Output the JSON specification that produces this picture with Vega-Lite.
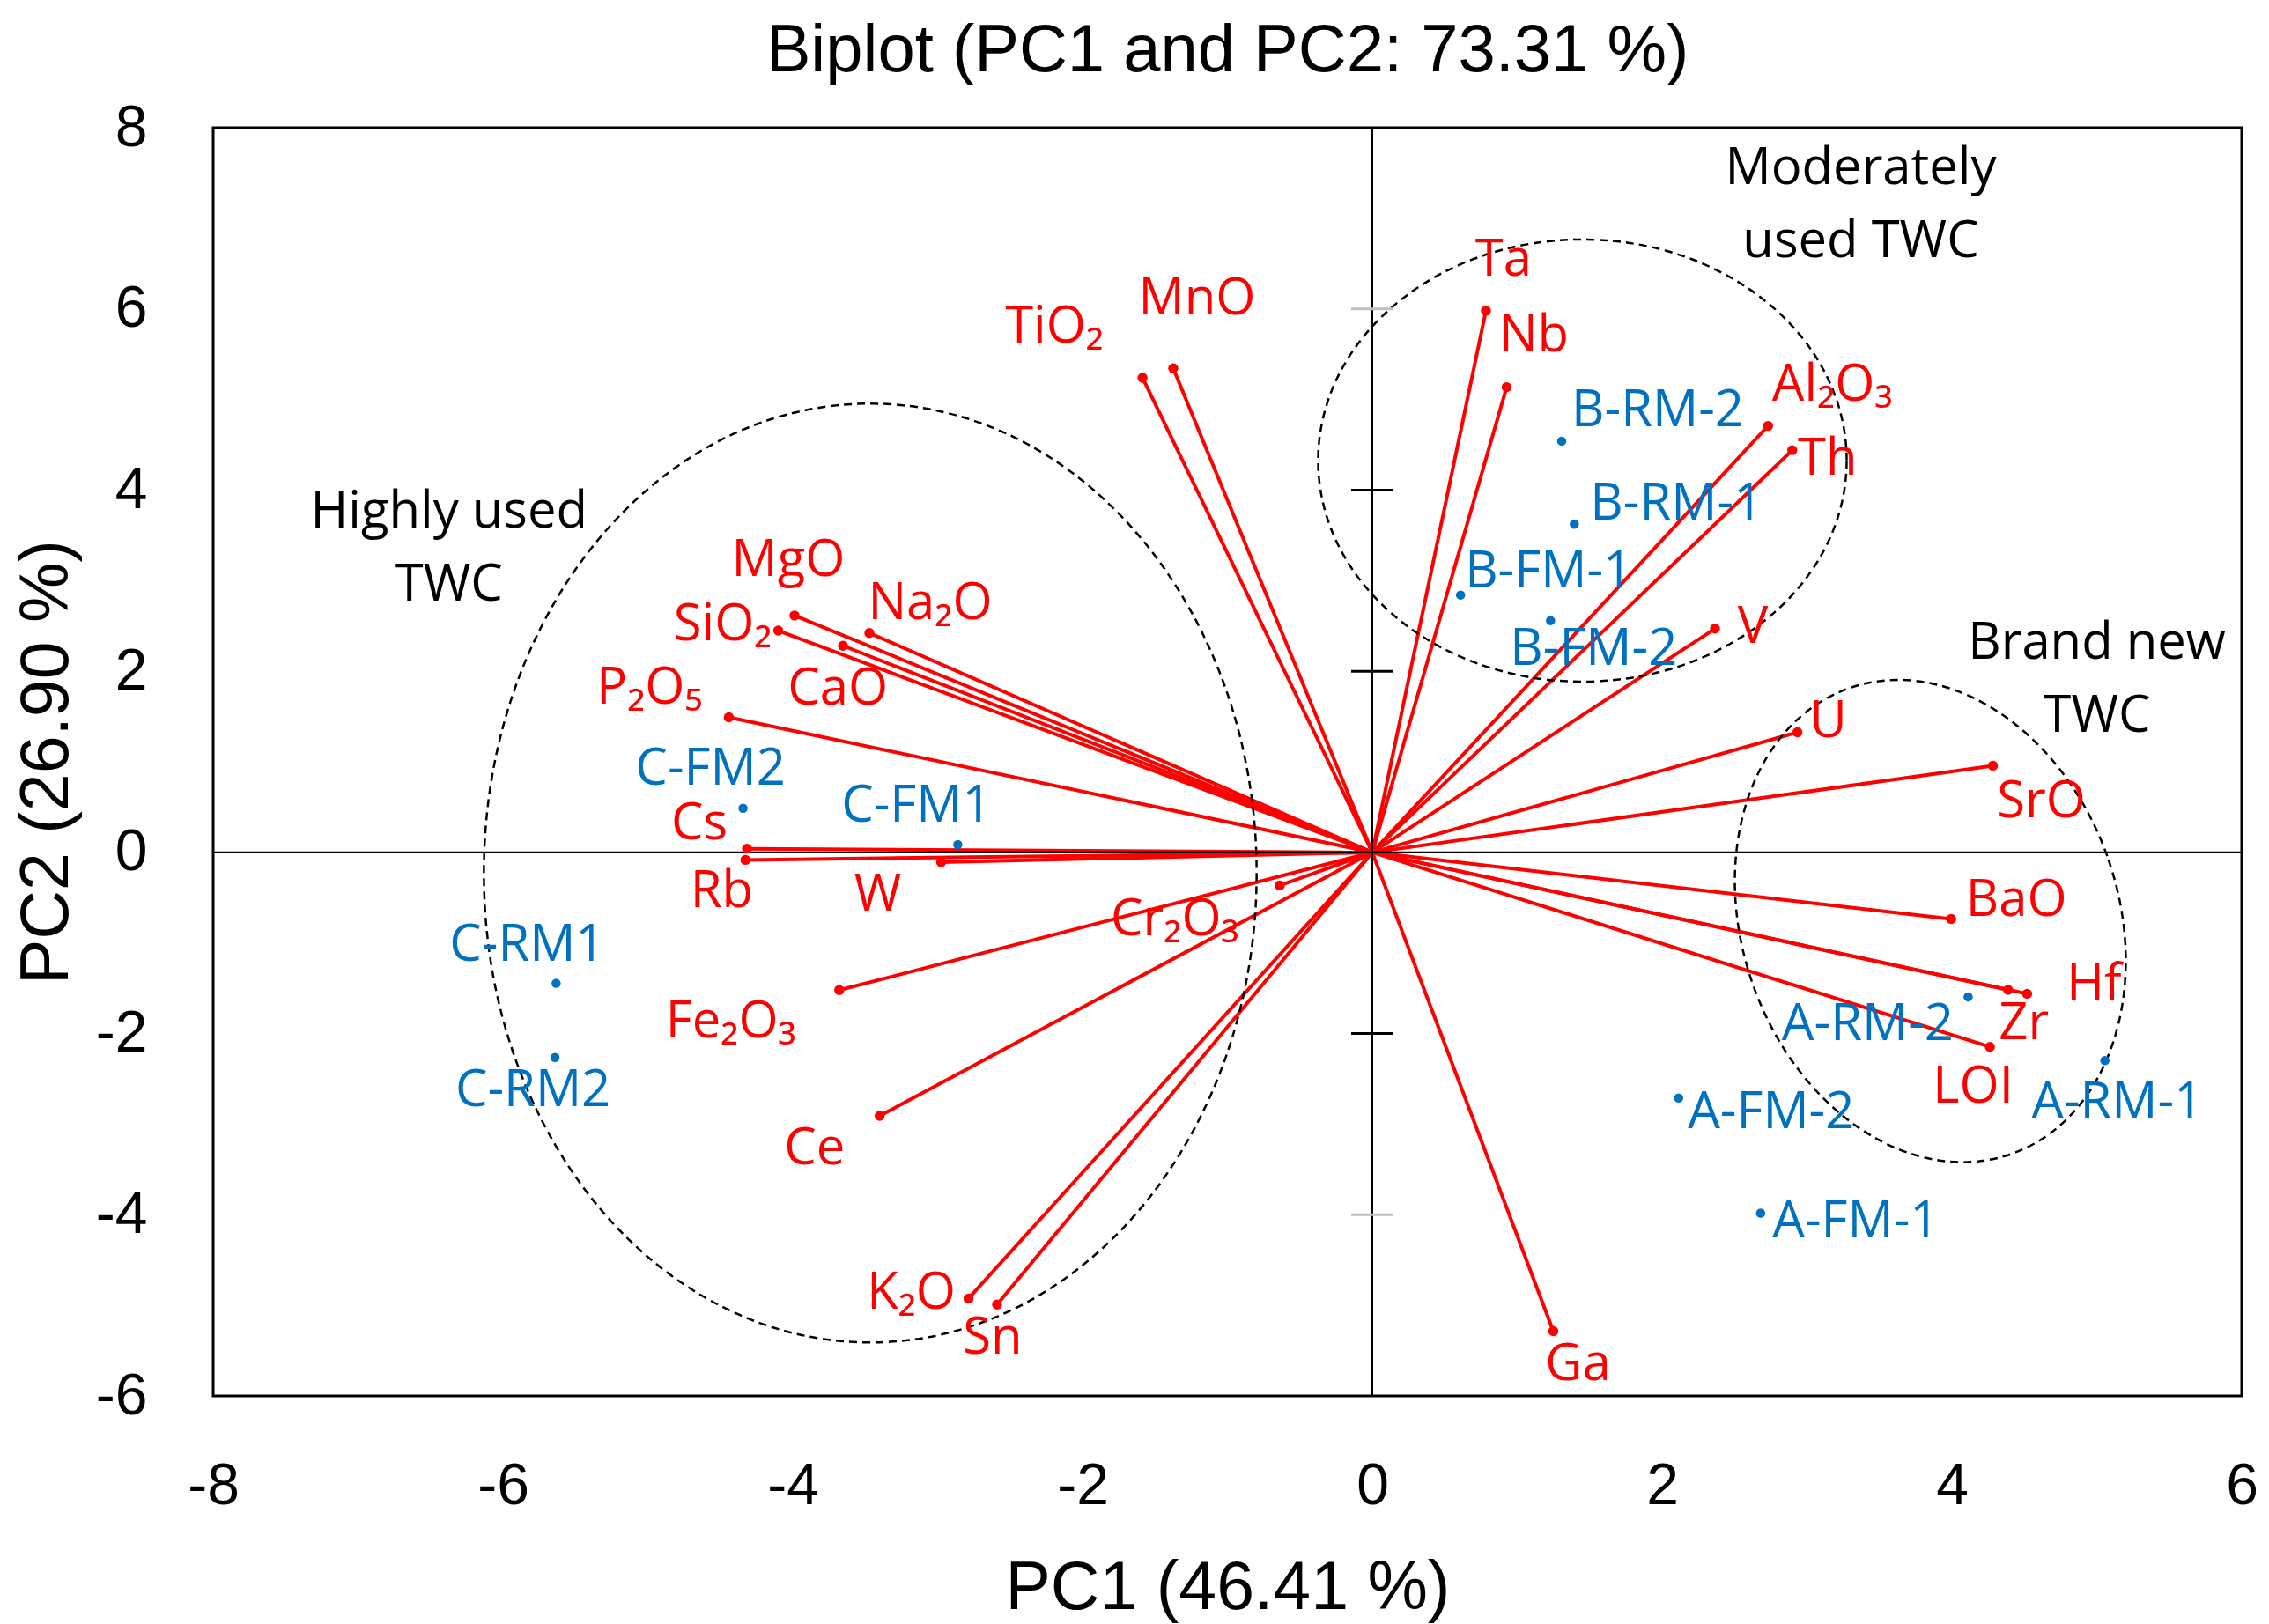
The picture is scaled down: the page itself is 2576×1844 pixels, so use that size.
{
  "$schema": "https://vega.github.io/schema/vega-lite/v6.json",
  "width": 2303,
  "height": 1440,
  "autosize": {"type": "none"},
  "padding": {"left": 242, "top": 145, "right": 31, "bottom": 259},
  "background": "white",
  "title": {"text": "Biplot (PC1 and PC2: 73.31 %)", "font": "Liberation Sans", "fontSize": 76, "fontWeight": "normal", "color": "black", "anchor": "middle", "frame": "group", "baseline": "alphabetic", "offset": -45},
  "config": {
    "view": {"stroke": "black", "strokeWidth": 3},
    "axis": {"domain": false, "ticks": false, "tickSize": 0, "grid": false, "labelFont": "Liberation Sans", "labelFontSize": 66, "labelColor": "black", "titleFont": "Liberation Sans", "titleFontSize": 77, "titleFontWeight": "normal", "titleColor": "black", "labelFlush": false, "labelOverlap": false, "labelBound": false},
    "text": {"font": "Open Sans", "fontSize": 58}
  },
  "datasets": {
    "vars": [
      {"name": "Ta", "x": 0.784, "y": 5.979},
      {"name": "Nb", "x": 0.927, "y": 5.136},
      {"name": "Al₂O₃", "x": 2.731, "y": 4.708},
      {"name": "Th", "x": 2.898, "y": 4.44},
      {"name": "V", "x": 2.365, "y": 2.47},
      {"name": "U", "x": 2.934, "y": 1.325},
      {"name": "SrO", "x": 4.283, "y": 0.957},
      {"name": "BaO", "x": 3.995, "y": -0.736},
      {"name": "Hf", "x": 4.519, "y": -1.561},
      {"name": "Zr", "x": 4.388, "y": -1.518},
      {"name": "LOI", "x": 4.262, "y": -2.147},
      {"name": "Ga", "x": 1.249, "y": -5.285},
      {"name": "Sn", "x": -2.59, "y": -4.991},
      {"name": "K₂O", "x": -2.787, "y": -4.925},
      {"name": "Ce", "x": -3.4, "y": -2.908},
      {"name": "Fe₂O₃", "x": -3.679, "y": -1.521},
      {"name": "Cr₂O₃", "x": -0.639, "y": -0.365},
      {"name": "W", "x": -2.976, "y": -0.108},
      {"name": "Rb", "x": -4.326, "y": -0.083},
      {"name": "Cs", "x": -4.316, "y": 0.041},
      {"name": "P₂O₅", "x": -4.441, "y": 1.491},
      {"name": "CaO", "x": -3.653, "y": 2.281},
      {"name": "SiO₂", "x": -4.1, "y": 2.448},
      {"name": "Na₂O", "x": -3.471, "y": 2.422},
      {"name": "MgO", "x": -3.988, "y": 2.615},
      {"name": "TiO₂", "x": -1.586, "y": 5.239},
      {"name": "MnO", "x": -1.374, "y": 5.343}
    ],
    "samples": [
      {"name": "B-RM-2", "x": 1.307, "y": 4.54},
      {"name": "B-RM-1", "x": 1.394, "y": 3.622},
      {"name": "B-FM-1", "x": 0.609, "y": 2.841},
      {"name": "B-FM-2", "x": 1.23, "y": 2.559},
      {"name": "C-FM2", "x": -4.343, "y": 0.487},
      {"name": "C-FM1", "x": -2.861, "y": 0.086},
      {"name": "C-RM1", "x": -5.633, "y": -1.446},
      {"name": "C-RM2", "x": -5.641, "y": -2.264},
      {"name": "A-RM-2", "x": 4.112, "y": -1.595},
      {"name": "A-RM-1", "x": 5.056, "y": -2.299},
      {"name": "A-FM-2", "x": 2.114, "y": -2.711},
      {"name": "A-FM-1", "x": 2.68, "y": -3.983}
    ]
  },
  "layer": [
    {
      "data": {"name": "vars"},
      "mark": {"type": "rule", "color": "#FF0000", "strokeWidth": 4},
      "encoding": {
        "x": {"field": "x", "type": "quantitative", "scale": {"domain": [-8, 6], "nice": false, "zero": false},
              "axis": {"values": [-8, -6, -4, -2, 0, 2, 4, 6], "format": "d", "title": "PC1 (46.41 %)", "labelPadding": 70, "titlePadding": 45, "labelExpr": "replace(datum.label, '−', '-')"}},
        "y": {"field": "y", "type": "quantitative", "scale": {"domain": [-6, 8], "nice": false, "zero": false},
              "axis": {"values": [-6, -4, -2, 0, 2, 4, 6, 8], "format": "d", "title": "PC2 (26.90 %)", "labelPadding": 75, "titlePadding": 16, "labelExpr": "replace(datum.label, '−', '-')"}},
        "x2": {"datum": 0},
        "y2": {"datum": 0}
      }
    },
    {
      "data": {"values": [{"group": "Highly used TWC", "x": -3.465, "y": -0.228}]},
      "mark": {"type": "point", "shape": "M 0.823,0 C 0.823,0.5523 0.4545,1 0,1 C -0.4545,1 -0.823,0.5523 -0.823,0 C -0.823,-0.5523 -0.4545,-1 0,-1 C 0.4545,-1 0.823,-0.5523 0.823,0 Z", "size": 1136356, "filled": false, "color": "black", "strokeWidth": 2.5, "strokeDash": [9, 6], "opacity": 1},
      "encoding": {"x": {"field": "x", "type": "quantitative"}, "y": {"field": "y", "type": "quantitative"}}
    },
    {
      "data": {"values": [{"group": "Moderately used TWC", "x": 1.45, "y": 4.326}]},
      "mark": {"type": "point", "shape": "M 1,0 C 1,0.4621 0.5523,0.8367 0,0.8367 C -0.5523,0.8367 -1,0.4621 -1,0 C -1,-0.4621 -0.5523,-0.8367 0,-0.8367 C 0.5523,-0.8367 1,-0.4621 1,0 Z", "size": 360000, "filled": false, "color": "black", "strokeWidth": 2.5, "strokeDash": [9, 6], "opacity": 1},
      "encoding": {"x": {"field": "x", "type": "quantitative"}, "y": {"field": "y", "type": "quantitative"}}
    },
    {
      "data": {"values": [{"group": "Brand new TWC", "x": 3.851, "y": -0.758}]},
      "mark": {"type": "point", "shape": "M 0.764,0 C 0.764,0.5523 0.422,1 0,1 C -0.422,1 -0.764,0.5523 -0.764,0 C -0.764,-0.5523 -0.422,-1 0,-1 C 0.422,-1 0.764,-0.5523 0.764,0 Z", "size": 313600, "angle": -19, "filled": false, "color": "black", "strokeWidth": 2.5, "strokeDash": [9, 6], "opacity": 1},
      "encoding": {"x": {"field": "x", "type": "quantitative"}, "y": {"field": "y", "type": "quantitative"}}
    },
    {
      "data": {"values": [{"v": 0}]},
      "mark": {"type": "rule", "color": "black", "strokeWidth": 2},
      "encoding": {"x": {"field": "v", "type": "quantitative"}}
    },
    {
      "data": {"values": [{"v": 0}]},
      "mark": {"type": "rule", "color": "black", "strokeWidth": 2},
      "encoding": {"y": {"field": "v", "type": "quantitative"}}
    },
    {
      "data": {"values": [{"c": 0, "v": 2}, {"c": 0, "v": 4}, {"c": 0, "v": -2}]},
      "mark": {"type": "tick", "orient": "horizontal", "size": 48, "thickness": 3, "color": "black", "opacity": 1},
      "encoding": {"x": {"field": "c", "type": "quantitative"}, "y": {"field": "v", "type": "quantitative"}}
    },
    {
      "data": {"values": [{"c": 0, "v": 6}, {"c": 0, "v": -4}]},
      "mark": {"type": "tick", "orient": "horizontal", "size": 48, "thickness": 3, "color": "#BFBFBF", "opacity": 1},
      "encoding": {"x": {"field": "c", "type": "quantitative"}, "y": {"field": "v", "type": "quantitative"}}
    },
    {
      "data": {"name": "vars"},
      "mark": {"type": "circle", "size": 130, "color": "#FF0000", "opacity": 1},
      "encoding": {"x": {"field": "x", "type": "quantitative"}, "y": {"field": "y", "type": "quantitative"}}
    },
    {
      "data": {"name": "samples"},
      "mark": {"type": "circle", "size": 110, "color": "#0070C0", "opacity": 1},
      "encoding": {"x": {"field": "x", "type": "quantitative"}, "y": {"field": "y", "type": "quantitative"}}
    },
    {
      "data": {"name": "vars"},
      "encoding": {"x": {"field": "x", "type": "quantitative"}, "y": {"field": "y", "type": "quantitative"}, "text": {"field": "name"}, "color": {"value": "#FF0000"}},
      "layer": [
        {"transform": [{"filter": "datum.name === 'Ta'"}], "mark": {"type": "text", "dx": 20, "dy": -57}},
        {"transform": [{"filter": "datum.name === 'Nb'"}], "mark": {"type": "text", "dx": 31, "dy": -58}},
        {"transform": [{"filter": "datum.name === 'Al₂O₃'"}], "mark": {"type": "text", "dx": 73, "dy": -46}},
        {"transform": [{"filter": "datum.name === 'Th'"}], "mark": {"type": "text", "dx": 40, "dy": 11}},
        {"transform": [{"filter": "datum.name === 'V'"}], "mark": {"type": "text", "dx": 43, "dy": -1}},
        {"transform": [{"filter": "datum.name === 'U'"}], "mark": {"type": "text", "dx": 35, "dy": -12}},
        {"transform": [{"filter": "datum.name === 'SrO'"}], "mark": {"type": "text", "dx": 55, "dy": 42}},
        {"transform": [{"filter": "datum.name === 'BaO'"}], "mark": {"type": "text", "dx": 74, "dy": -21}},
        {"transform": [{"filter": "datum.name === 'Hf'"}], "mark": {"type": "text", "dx": 76, "dy": -9}},
        {"transform": [{"filter": "datum.name === 'Zr'"}], "mark": {"type": "text", "dx": 18, "dy": 39}},
        {"transform": [{"filter": "datum.name === 'LOI'"}], "mark": {"type": "text", "dx": -19, "dy": 46}},
        {"transform": [{"filter": "datum.name === 'Ga'"}], "mark": {"type": "text", "dx": 28, "dy": 39}},
        {"transform": [{"filter": "datum.name === 'Sn'"}], "mark": {"type": "text", "dx": -5, "dy": 39}},
        {"transform": [{"filter": "datum.name === 'K₂O'"}], "mark": {"type": "text", "dx": -65, "dy": -5}},
        {"transform": [{"filter": "datum.name === 'Ce'"}], "mark": {"type": "text", "dx": -74, "dy": 38}},
        {"transform": [{"filter": "datum.name === 'Fe₂O₃'"}], "mark": {"type": "text", "dx": -123, "dy": 37}},
        {"transform": [{"filter": "datum.name === 'Cr₂O₃'"}], "mark": {"type": "text", "dx": -119, "dy": 40}},
        {"transform": [{"filter": "datum.name === 'W'"}], "mark": {"type": "text", "dx": -72, "dy": 38}},
        {"transform": [{"filter": "datum.name === 'Rb'"}], "mark": {"type": "text", "dx": -27, "dy": 37}},
        {"transform": [{"filter": "datum.name === 'Cs'"}], "mark": {"type": "text", "dx": -54, "dy": -28}},
        {"transform": [{"filter": "datum.name === 'P₂O₅'"}], "mark": {"type": "text", "dx": -90, "dy": -32}},
        {"transform": [{"filter": "datum.name === 'CaO'"}], "mark": {"type": "text", "dx": -6, "dy": 50}},
        {"transform": [{"filter": "datum.name === 'SiO₂'"}], "mark": {"type": "text", "dx": -63, "dy": -6}},
        {"transform": [{"filter": "datum.name === 'Na₂O'"}], "mark": {"type": "text", "dx": 69, "dy": -33}},
        {"transform": [{"filter": "datum.name === 'MgO'"}], "mark": {"type": "text", "dx": -7, "dy": -62}},
        {"transform": [{"filter": "datum.name === 'TiO₂'"}], "mark": {"type": "text", "dx": -100, "dy": -57}},
        {"transform": [{"filter": "datum.name === 'MnO'"}], "mark": {"type": "text", "dx": 27, "dy": -78}}
      ]
    },
    {
      "data": {"name": "samples"},
      "encoding": {"x": {"field": "x", "type": "quantitative"}, "y": {"field": "y", "type": "quantitative"}, "text": {"field": "name"}, "color": {"value": "#0070C0"}},
      "layer": [
        {"transform": [{"filter": "datum.name === 'B-RM-2'"}], "mark": {"type": "text", "dx": 109, "dy": -34}},
        {"transform": [{"filter": "datum.name === 'B-RM-1'"}], "mark": {"type": "text", "dx": 116, "dy": -22}},
        {"transform": [{"filter": "datum.name === 'B-FM-1'"}], "mark": {"type": "text", "dx": 100, "dy": -26}},
        {"transform": [{"filter": "datum.name === 'B-FM-2'"}], "mark": {"type": "text", "dx": 49, "dy": 33}},
        {"transform": [{"filter": "datum.name === 'C-FM2'"}], "mark": {"type": "text", "dx": -37, "dy": -44}},
        {"transform": [{"filter": "datum.name === 'C-FM1'"}], "mark": {"type": "text", "dx": -47, "dy": -43}},
        {"transform": [{"filter": "datum.name === 'C-RM1'"}], "mark": {"type": "text", "dx": -33, "dy": -43}},
        {"transform": [{"filter": "datum.name === 'C-RM2'"}], "mark": {"type": "text", "dx": -25, "dy": 38}},
        {"transform": [{"filter": "datum.name === 'A-RM-2'"}], "mark": {"type": "text", "dx": -114, "dy": 32}},
        {"transform": [{"filter": "datum.name === 'A-RM-1'"}], "mark": {"type": "text", "dx": 14, "dy": 49}},
        {"transform": [{"filter": "datum.name === 'A-FM-2'"}], "mark": {"type": "text", "dx": 105, "dy": 17}},
        {"transform": [{"filter": "datum.name === 'A-FM-1'"}], "mark": {"type": "text", "dx": 108, "dy": 10}}
      ]
    },
    {
      "data": {"values": [
        {"label": "Highly used\nTWC", "x": -6.372, "y": 3.75},
        {"label": "Moderately\nused TWC", "x": 3.371, "y": 7.543},
        {"label": "Brand new\nTWC", "x": 5.0, "y": 2.307}
      ]},
      "mark": {"type": "text", "lineBreak": "\n", "lineHeight": 83, "color": "black"},
      "encoding": {"x": {"field": "x", "type": "quantitative"}, "y": {"field": "y", "type": "quantitative"}, "text": {"field": "label"}}
    }
  ]
}
